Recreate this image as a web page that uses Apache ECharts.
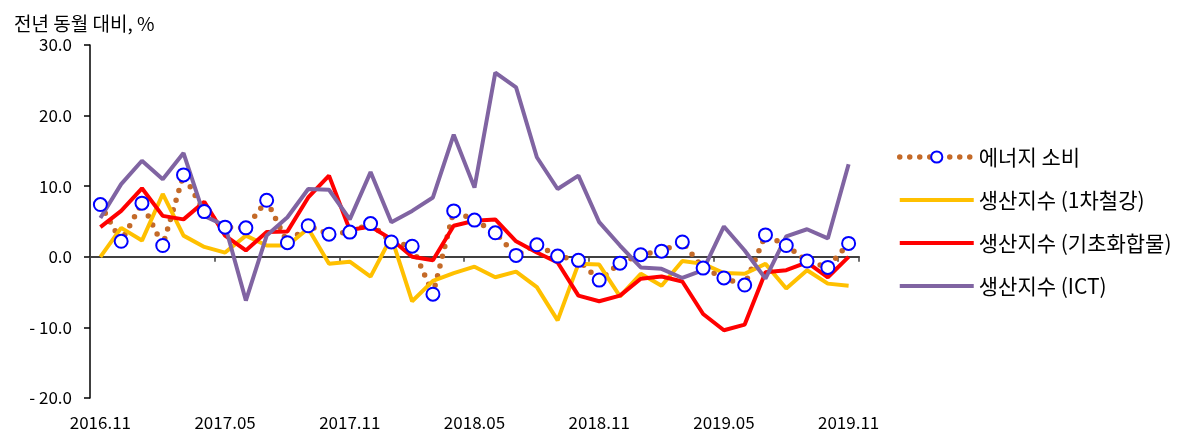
<!DOCTYPE html>
<html>
<head>
<meta charset="utf-8">
<script src="https://cdn.jsdelivr.net/npm/echarts@6/dist/echarts.min.js"></script>
<style>
html,body{margin:0;padding:0;background:#fff;}
#chart{width:1200px;height:440px;}
</style>
</head>
<body>
<div id="chart"></div>
<script>
const months = ["2016.11","2016.12","2017.01","2017.02","2017.03","2017.04","2017.05","2017.06","2017.07","2017.08","2017.09","2017.10",
"2017.11","2017.12","2018.01","2018.02","2018.03","2018.04","2018.05","2018.06","2018.07","2018.08","2018.09","2018.10",
"2018.11","2018.12","2019.01","2019.02","2019.03","2019.04","2019.05","2019.06","2019.07","2019.08","2019.09","2019.10","2019.11"];

const energy = [7.4,2.2,7.6,1.6,11.6,6.4,4.2,4.1,8.0,2.0,4.4,3.2,3.5,4.7,2.1,1.5,-5.3,6.5,5.2,3.4,0.2,1.7,0.1,-0.5,-3.3,-0.9,0.3,0.8,2.1,-1.6,-3.0,-4.0,3.1,1.6,-0.6,-1.5,1.9];
const steel = [0.0,4.1,2.3,8.9,3.0,1.4,0.6,3.0,1.6,1.6,4.0,-1.0,-0.7,-2.8,2.8,-6.3,-3.4,-2.3,-1.4,-2.9,-2.1,-4.3,-9.0,-1.0,-1.1,-5.6,-2.4,-4.1,-0.6,-1.0,-2.3,-2.4,-1.0,-4.5,-1.9,-3.8,-4.1];
const chem = [4.2,6.5,9.7,5.8,5.3,7.8,3.0,0.9,3.5,3.6,8.4,11.5,3.8,4.3,2.5,0.0,-0.5,4.4,5.1,5.3,2.2,0.6,-0.8,-5.5,-6.3,-5.5,-3.1,-2.8,-3.5,-8.1,-10.4,-9.6,-2.2,-1.9,-0.8,-2.9,0.0];
const ict = [5.5,10.3,13.6,11.0,14.7,5.8,4.4,-6.2,3.0,5.6,9.6,9.5,5.3,12.0,4.9,6.5,8.4,17.3,9.8,26.1,24.0,14.1,9.6,11.5,4.9,1.6,-1.5,-1.7,-3.0,-1.9,4.3,0.9,-3.1,2.9,3.9,2.6,13.1];

const seriesNames = ["에너지 소비","생산지수 (1차철강)","생산지수 (기초화합물)","생산지수 (ICT)"];
const yTicks = {min:-20, max:30, interval:10};

const FONT = "'Noto Sans CJK KR', 'Noto Sans', sans-serif";
const BAR = 'path://M0,0 L74,0 L74,4 L0,4 Z';
const chart = echarts.init(document.getElementById('chart'), null, {renderer:'canvas'});
chart.setOption({
  animation:false,
  backgroundColor:'#fff',
  title:{text:'전년 동월 대비, %', left:9, top:9, textStyle:{fontFamily:FONT, fontSize:19, fontWeight:'normal', color:'#000'}},
  grid:{left:90, right:341, top:45, bottom:42, containLabel:false},
  legend:{
    orient:'vertical', left:892, top:141, itemWidth:74, itemHeight:14, itemGap:21,
    textStyle:{fontFamily:FONT, fontSize:21, lineHeight:22, color:'#000'},
    data:[
      {name:seriesNames[0], lineStyle:{width:5.5, type:[0,10], cap:'round', color:'#C46A28'}},
      {name:seriesNames[1], icon:BAR},
      {name:seriesNames[2], icon:BAR},
      {name:seriesNames[3], icon:BAR}
    ]
  },
  xAxis:[
    {type:'category', data:months, boundaryGap:true,
     axisLine:{show:true, onZero:true, lineStyle:{color:'#404040', width:2}},
     axisTick:{show:true, interval:5, length:5, lineStyle:{color:'#404040', width:1.5}},
     axisLabel:{show:false}, splitLine:{show:false}},
    {type:'category', data:months, boundaryGap:true, position:'bottom',
     axisLine:{show:false, onZero:false}, axisTick:{show:false},
     axisLabel:{show:true, interval:5, margin:16, fontFamily:FONT, fontSize:17, color:'#000'},
     splitLine:{show:false}}
  ],
  yAxis:{type:'value', min:yTicks.min, max:yTicks.max, interval:yTicks.interval,
    axisLine:{show:true, lineStyle:{color:'#000', width:1.5}},
    axisTick:{show:true, length:6, lineStyle:{color:'#000', width:1.5}},
    splitLine:{show:false},
    axisLabel:{margin:18, fontFamily:FONT, fontSize:17, color:'#000',
      formatter:v => v < 0 ? '- ' + (-v).toFixed(1) : v.toFixed(1)}
  },
  series:[
    {name:seriesNames[0], type:'line', data:energy, xAxisIndex:0,
     symbol:'emptyCircle', symbolSize:13, showSymbol:true,
     itemStyle:{color:'#0000FF', borderColor:'#0000FF', borderWidth:2},
     lineStyle:{color:'#C46A28', width:5.5, type:[0,10], cap:'round'}},
    {name:seriesNames[1], type:'line', data:steel, xAxisIndex:0, symbol:'none',
     itemStyle:{color:'#FFC000'}, lineStyle:{color:'#FFC000', width:4}},
    {name:seriesNames[2], type:'line', data:chem, xAxisIndex:0, symbol:'none',
     itemStyle:{color:'#FF0000'}, lineStyle:{color:'#FF0000', width:4}},
    {name:seriesNames[3], type:'line', data:ict, xAxisIndex:0, symbol:'none',
     itemStyle:{color:'#8064A2'}, lineStyle:{color:'#8064A2', width:4}}
  ]
});
</script>
</body>
</html>
